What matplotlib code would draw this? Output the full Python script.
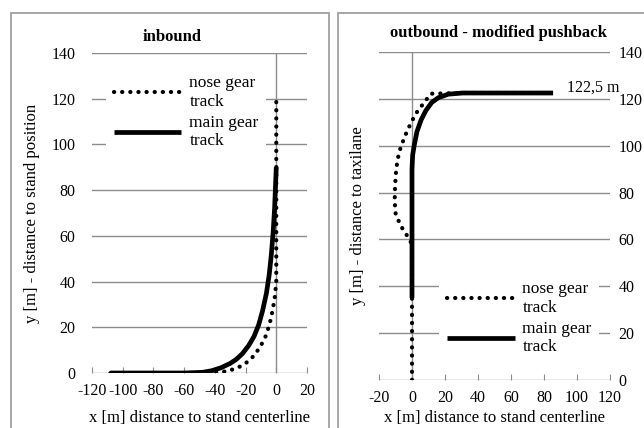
import matplotlib.pyplot as plt
from matplotlib.patches import Rectangle

plt.rcParams['font.family'] = ['Liberation Serif', 'DejaVu Serif']
plt.rcParams['axes.unicode_minus'] = False

# inbound tracks
in_main_x = [-108, -60, -48, -42, -36, -30, -26, -22, -18, -14.5, -11.5, -9, -6.4, -4.6, -3.2, -2, -1.1, -0.5, 0]
in_main_y = [0, 0, 0.3, 1, 2.3, 4.2, 6, 8.5, 12, 16, 21, 27, 35, 43, 52, 62, 72, 82, 90]
in_nose_x = [-108, -60, -42, -34, -28, -23, -18, -14, -10, -7, -4.5, -2.5, -1, 0, 0]
in_nose_y = [0, 0, 0, 0.6, 1.6, 3, 5.2, 8, 12, 16, 21, 27, 33, 40, 120]

# outbound tracks
out_main_x = [0, 0, 0.4, 1.3, 3, 5.5, 8.4, 12, 16, 22, 30.7, 85.5]
out_main_y = [35, 90, 96, 100, 106, 111, 115, 118.5, 120.5, 122, 122.5, 122.5]
out_nose_x = [0, 0, -1, -3.8, -7, -9.9, -10.5, -10.3, -9.8, -8.8, -6.8, -2.8, 2.3, 8.4, 11.4, 30.7, 85.5]
out_nose_y = [0, 57, 59.5, 62.5, 66, 71, 76, 82, 88, 94, 99.5, 106.6, 113.7, 119.4, 122.2, 122.5, 122.5]

yticks = [0, 20, 40, 60, 80, 100, 120, 140]
in_xticks = [-120, -100, -80, -60, -40, -20, 0, 20]
out_xticks = [-20, 0, 20, 40, 60, 80, 100, 120]

grid_c = '#8c8c8c'
dot_style = dict(color='black', lw=3.0, linestyle=(0, (0.05, 1.9)), dash_capstyle='round')
main_style = dict(color='black', lw=3.4, solid_capstyle='butt')

fig = plt.figure(figsize=(6.44, 4.28), dpi=100)

# panel frames
for x0, w in [(11 / 644, 318 / 644), (338 / 644, 320 / 644)]:
    fig.patches.append(Rectangle((x0, -0.01), w, 1 + 0.01 - 13 / 428, transform=fig.transFigure,
                                 fill=False, edgecolor='#a0a0a0', lw=1.3))


def style_axes(ax, xticks, xlim, right_labels):
    ax.set_xlim(xlim)
    ax.set_ylim(0, 140)
    for s in ax.spines.values():
        s.set_visible(False)
    for y in yticks[1:]:
        ax.axhline(y, color=grid_c, lw=1, zorder=0)
    ax.axhline(0, color=grid_c, lw=1, zorder=0)
    ax.axvline(0, color=grid_c, lw=1, zorder=0)
    ax.set_xticks(xticks)
    ax.set_yticks(yticks)
    ax.tick_params(axis='x', direction='in', length=4, color=grid_c, labelsize=11.5, pad=7)
    ax.tick_params(axis='y', length=0, labelsize=11.5, pad=12)
    if right_labels:
        ax.yaxis.tick_right()
        ax.tick_params(axis='y', length=0, pad=6)
    ax.patch.set_alpha(0)


def add_legend(ax, anchor):
    leg = ax.legend(loc='upper left', bbox_to_anchor=anchor, frameon=True, fontsize=12.5,
                    handlelength=3.9, handletextpad=0.45, labelspacing=0.3, borderpad=0.45,
                    borderaxespad=0)
    fr = leg.get_frame()
    fr.set_edgecolor('none')
    fr.set_facecolor('white')
    fr.set_alpha(1)
    fr.set_boxstyle('square', pad=0)
    return leg


ax1 = fig.add_axes([92 / 644, 1 - 373 / 428, 215 / 644, 320 / 428])
style_axes(ax1, in_xticks, (-120, 20), False)
ax1.plot(in_nose_x, in_nose_y, label='nose gear\ntrack', **dot_style)
ax1.plot(in_main_x, in_main_y, label='main gear\ntrack', **main_style)
add_legend(ax1, (0.065, 0.955))
ax1.set_xlabel('x [m] distance to stand centerline', fontsize=12, va='center')
ax1.xaxis.set_label_coords(0.5, -(418 - 373) / 320, transform=ax1.transAxes)
ax1.set_ylabel('y [m] - distance to stand position', fontsize=12, va='center')
ax1.yaxis.set_label_coords(-(92 - 32) / 215, 0.5, transform=ax1.transAxes)
fig.text(172 / 644, 1 - 37 / 428, 'inbound', ha='center', va='center', fontsize=12, fontweight='bold')

ax2 = fig.add_axes([379 / 644, 1 - 380 / 428, 231 / 644, 328 / 428])
style_axes(ax2, out_xticks, (-20, 120), True)
ax2.plot(out_nose_x, out_nose_y, label='nose gear\ntrack', **dot_style)
ax2.plot(out_main_x, out_main_y, label='main gear\ntrack', **main_style)
add_legend(ax2, (0.26, 0.325))
ax2.text(109.7, 124.8, '122,5 m', ha='center', va='center', fontsize=11.5)
ax2.set_xlabel('x [m] distance to stand centerline', fontsize=12, va='center')
ax2.xaxis.set_label_coords(0.5, -(418 - 380) / 328, transform=ax2.transAxes)
ax2.set_ylabel('y [m] - distance to taxilane', fontsize=12, va='center')
ax2.yaxis.set_label_coords(-(379 - 358) / 231, 0.5, transform=ax2.transAxes)
fig.text(498 / 644, 1 - 33 / 428, 'outbound - modified pushback', ha='center', va='center',
         fontsize=12, fontweight='bold')

fig.savefig('out.png', dpi=100)
